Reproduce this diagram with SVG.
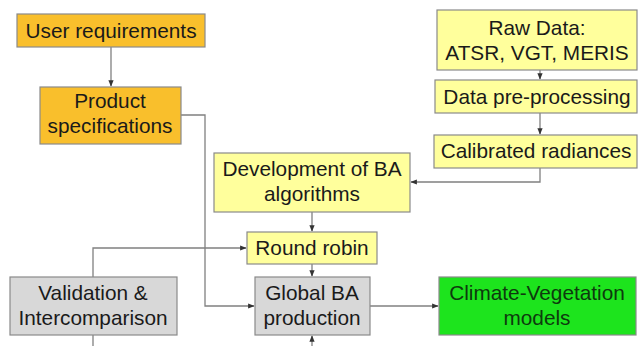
<svg xmlns="http://www.w3.org/2000/svg" width="638" height="346" viewBox="0 0 638 346">
<style>
.box{stroke:#8a8a8a;stroke-width:1.2}
.org{fill:#f9bf2c}
.yel{fill:#ffff9c}
.gry{fill:#d8d8d8}
.grn{fill:#1de41d}
text{font-family:"Liberation Sans",Arial,sans-serif;font-size:20.8px;fill:#1a1a1a;text-anchor:middle}
.c path{fill:none;stroke:#808080;stroke-width:1.3}
</style>
<defs>
<marker id="a" viewBox="0 0 10 10" refX="9" refY="5" markerWidth="5" markerHeight="5" orient="auto">
<path d="M0,1 L10,5 L0,9 Z" fill="#333"/>
</marker>
</defs>
<g class="c">
<path d="M111,47 V86" marker-end="url(#a)"/>
<path d="M540,70 V79" marker-end="url(#a)"/>
<path d="M540,113 V134" marker-end="url(#a)"/>
<path d="M540,168 V182 H411" marker-end="url(#a)"/>
<path d="M312,212 V231" marker-end="url(#a)"/>
<path d="M312,264 V276" marker-end="url(#a)"/>
<path d="M181,115 H205 V306 H254" marker-end="url(#a)"/>
<path d="M93,277 V248 H246" marker-end="url(#a)"/>
<path d="M370,306 H438" marker-end="url(#a)"/>
<path d="M312,346 V336" marker-end="url(#a)"/>
<path d="M93,335 V346"/>
</g>
<g id="user-req"><rect class="box org" x="17" y="14" width="188" height="33"/><text x="111" y="38">User requirements</text></g>
<g id="product-spec"><rect class="box org" x="40" y="87" width="141" height="57"/><text x="110" y="108">Product</text><text x="110" y="133">specifications</text></g>
<g id="raw-data"><rect class="box yel" x="437" y="10" width="200" height="60"/><text x="537" y="35">Raw Data:</text><text x="537" y="60">ATSR, VGT, MERIS</text></g>
<g id="pre-processing"><rect class="box yel" x="435" y="80" width="202" height="33"/><text x="537" y="104">Data pre-processing</text></g>
<g id="calibrated"><rect class="box yel" x="434" y="135" width="203" height="33"/><text x="536" y="158">Calibrated radiances</text></g>
<g id="development"><rect class="box yel" x="214" y="153" width="196" height="59"/><text x="312" y="176">Development of BA</text><text x="312" y="201">algorithms</text></g>
<g id="round-robin"><rect class="box yel" x="247" y="232" width="130" height="32"/><text x="312" y="255">Round robin</text></g>
<g id="global-ba"><rect class="box gry" x="255" y="277" width="115" height="58"/><text x="312" y="300">Global BA</text><text x="312" y="325">production</text></g>
<g id="validation"><rect class="box gry" x="10" y="277" width="167" height="58"/><text x="93" y="300">Validation &amp;</text><text x="93" y="325">Intercomparison</text></g>
<g id="climate"><rect class="box grn" x="439" y="277" width="197" height="58"/><text x="537" y="300" style="fill:#0e3a0e">Climate-Vegetation</text><text x="537" y="325" style="fill:#0e3a0e">models</text></g>
</svg>
